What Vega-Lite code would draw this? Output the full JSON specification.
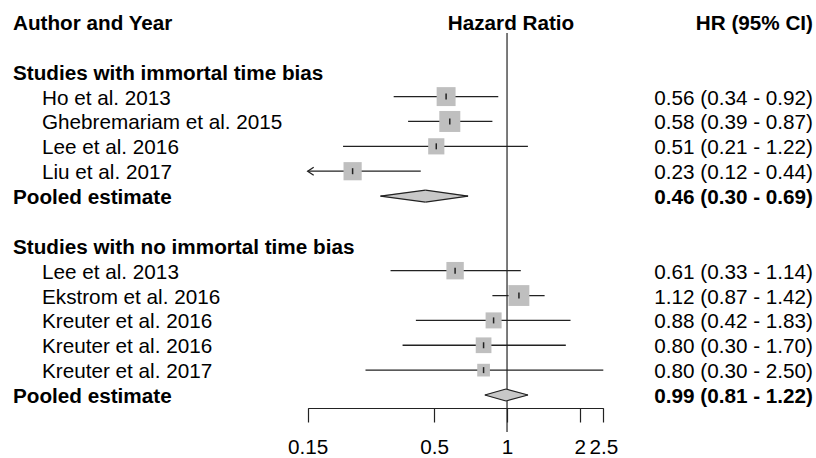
{
  "$schema": "https://vega.github.io/schema/vega-lite/v6.json",
  "width": 816,
  "height": 408,
  "autosize": {"type": "none"},
  "padding": {"left": 0, "top": 0, "right": 0, "bottom": 50},
  "background": "white",
  "config": {"view": {"stroke": null}, "font": "Liberation Sans"},
  "data": {"values": [
    {"row": 0, "kind": "colhead", "label": "Author and Year", "mid": "Hazard Ratio", "ci": "HR (95% CI)"},
    {"row": 2, "kind": "group", "label": "Studies with immortal time bias", "ci": ""},
    {"row": 3, "kind": "study", "label": "Ho et al. 2013", "hr": 0.56, "lo": 0.34, "hi": 0.92, "w": 26, "ci": "0.56 (0.34 - 0.92)"},
    {"row": 4, "kind": "study", "label": "Ghebremariam et al. 2015", "hr": 0.58, "lo": 0.39, "hi": 0.87, "w": 32, "ci": "0.58 (0.39 - 0.87)"},
    {"row": 5, "kind": "study", "label": "Lee et al. 2016", "hr": 0.51, "lo": 0.21, "hi": 1.22, "w": 19, "ci": "0.51 (0.21 - 1.22)"},
    {"row": 6, "kind": "study", "label": "Liu et al. 2017", "hr": 0.23, "lo": 0.12, "hi": 0.44, "w": 24, "ci": "0.23 (0.12 - 0.44)"},
    {"row": 7, "kind": "pooled", "label": "Pooled estimate", "hr": 0.46, "lo": 0.30, "hi": 0.69, "ci": "0.46 (0.30 - 0.69)"},
    {"row": 9, "kind": "group", "label": "Studies with no immortal time bias", "ci": ""},
    {"row": 10, "kind": "study", "label": "Lee et al. 2013", "hr": 0.61, "lo": 0.33, "hi": 1.14, "w": 22, "ci": "0.61 (0.33 - 1.14)"},
    {"row": 11, "kind": "study", "label": "Ekstrom et al. 2016", "hr": 1.12, "lo": 0.87, "hi": 1.43, "w": 31.5, "ci": "1.12 (0.87 - 1.42)"},
    {"row": 12, "kind": "study", "label": "Kreuter et al. 2016", "hr": 0.88, "lo": 0.42, "hi": 1.83, "w": 18.6, "ci": "0.88 (0.42 - 1.83)"},
    {"row": 13, "kind": "study", "label": "Kreuter et al. 2016", "hr": 0.80, "lo": 0.37, "hi": 1.75, "w": 17.9, "ci": "0.80 (0.30 - 1.70)"},
    {"row": 14, "kind": "study", "label": "Kreuter et al. 2017", "hr": 0.80, "lo": 0.26, "hi": 2.50, "w": 11.7, "ci": "0.80 (0.30 - 2.50)"},
    {"row": 15, "kind": "pooled", "label": "Pooled estimate", "hr": 0.99, "lo": 0.81, "hi": 1.22, "ci": "0.99 (0.81 - 1.22)"}
  ]},
  "layer": [
    {
      "transform": [{"filter": "datum.kind == 'study'"}],
      "mark": {"type": "rule", "color": "#222222", "strokeWidth": 1.3},
      "encoding": {
        "x": {"field": "lo", "type": "quantitative", "scale": {"type": "log", "domain": [0.15, 2.5], "range": [307.7, 603.3], "clamp": true, "nice": false},
          "axis": {"orient": "bottom", "values": [0.15, 0.5, 1, 2, 2.5], "format": "~g", "title": null, "grid": false, "domain": true, "ticks": true, "labels": true, "domainColor": "#222222", "domainWidth": 1.2, "tickColor": "#222222", "tickWidth": 1.2, "tickSize": 14, "labelFont": "Liberation Sans", "labelFontSize": 20.7, "labelColor": "#000000", "labelPadding": 31, "labelBaseline": "alphabetic", "labelOverlap": false, "labelFlush": false, "labelBound": false}},
        "x2": {"field": "hi"},
        "y": {"field": "row", "type": "quantitative", "scale": {"domain": [0, 15], "range": [22, 395]}, "axis": null}
      }
    },
    {
      "data": {"values": [{}]},
      "mark": {"type": "rule", "color": "#222222", "strokeWidth": 1.2},
      "encoding": {
        "x": {"datum": 1, "type": "quantitative", "scale": {"type": "log", "domain": [0.15, 2.5], "range": [307.7, 603.3], "clamp": true, "nice": false}, "axis": null},
        "y": {"datum": 0.44, "type": "quantitative", "scale": {"domain": [0, 15], "range": [22, 395]}, "axis": null},
        "y2": {"datum": 16.49}
      }
    },
    {
      "transform": [{"filter": "datum.kind == 'study'"}],
      "mark": {"type": "point", "shape": "square", "filled": true, "color": "#bfbfbf", "opacity": 1, "strokeWidth": 0},
      "encoding": {
        "x": {"field": "hr", "type": "quantitative", "scale": {"type": "log", "domain": [0.15, 2.5], "range": [307.7, 603.3], "clamp": true, "nice": false}, "axis": null},
        "y": {"field": "row", "type": "quantitative", "scale": {"domain": [0, 15], "range": [22, 395]}, "axis": null},
        "size": {"field": "w", "type": "quantitative", "scale": {"type": "linear", "domain": [0, 32], "range": [0, 441], "zero": true}, "legend": null}
      }
    },
    {
      "transform": [{"filter": "datum.kind == 'study'"}],
      "mark": {"type": "point", "shape": "M0,-1L0,1", "filled": false, "stroke": "#222222", "strokeWidth": 1.5, "size": 36, "opacity": 1},
      "encoding": {
        "x": {"field": "hr", "type": "quantitative", "scale": {"type": "log", "domain": [0.15, 2.5], "range": [307.7, 603.3], "clamp": true, "nice": false}, "axis": null},
        "y": {"field": "row", "type": "quantitative", "scale": {"domain": [0, 15], "range": [22, 395]}, "axis": null}
      }
    },
    {
      "transform": [{"filter": "datum.kind == 'study' && datum.lo < 0.15"}],
      "mark": {"type": "point", "shape": "M1.5,-1L0,0L1.5,1", "filled": false, "stroke": "#222222", "strokeWidth": 1.3, "size": 64, "opacity": 1},
      "encoding": {
        "x": {"field": "lo", "type": "quantitative", "scale": {"type": "log", "domain": [0.15, 2.5], "range": [307.7, 603.3], "clamp": true, "nice": false}, "axis": null},
        "y": {"field": "row", "type": "quantitative", "scale": {"domain": [0, 15], "range": [22, 395]}, "axis": null}
      }
    },
    {
      "transform": [{"filter": "datum.kind == 'pooled'"}, {"fold": ["lo", "hr", "hi"], "as": ["k", "v"]}],
      "mark": {"type": "trail", "color": "#c8c8c8", "fill": "#c8c8c8", "opacity": 1},
      "encoding": {
        "x": {"field": "v", "type": "quantitative", "scale": {"type": "log", "domain": [0.15, 2.5], "range": [307.7, 603.3], "clamp": true, "nice": false}, "axis": null},
        "y": {"field": "row", "type": "quantitative", "scale": {"domain": [0, 15], "range": [22, 395]}, "axis": null},
        "size": {"field": "k", "type": "nominal", "scale": {"type": "ordinal", "domain": ["lo", "hr", "hi"], "range": [0, 12, 0]}, "legend": null},
        "detail": {"field": "row"},
        "order": {"field": "v", "type": "quantitative"}
      }
    },
    {
      "transform": [{"filter": "datum.kind == 'pooled'"}, {"fold": ["lo", "hi"], "as": ["k", "v"]}],
      "mark": {"type": "rule", "color": "#222222", "strokeWidth": 1.2, "y2Offset": -6},
      "encoding": {
        "x": {"field": "v", "type": "quantitative", "scale": {"type": "log", "domain": [0.15, 2.5], "range": [307.7, 603.3], "clamp": true, "nice": false}, "axis": null},
        "x2": {"field": "hr"},
        "y": {"field": "row", "type": "quantitative", "scale": {"domain": [0, 15], "range": [22, 395]}, "axis": null},
        "y2": {"field": "row"}
      }
    },
    {
      "transform": [{"filter": "datum.kind == 'pooled'"}, {"fold": ["lo", "hi"], "as": ["k", "v"]}],
      "mark": {"type": "rule", "color": "#222222", "strokeWidth": 1.2, "y2Offset": 6},
      "encoding": {
        "x": {"field": "v", "type": "quantitative", "scale": {"type": "log", "domain": [0.15, 2.5], "range": [307.7, 603.3], "clamp": true, "nice": false}, "axis": null},
        "x2": {"field": "hr"},
        "y": {"field": "row", "type": "quantitative", "scale": {"domain": [0, 15], "range": [22, 395]}, "axis": null},
        "y2": {"field": "row"}
      }
    },
    {
      "transform": [{"filter": "datum.kind == 'colhead'"}],
      "mark": {"type": "text", "font": "Liberation Sans", "fontSize": 20.7, "fontWeight": "bold", "align": "center", "baseline": "middle", "dx": 4, "dy": 2, "color": "#000000"},
      "encoding": {
        "x": {"datum": 1, "type": "quantitative", "scale": {"type": "log", "domain": [0.15, 2.5], "range": [307.7, 603.3], "clamp": true, "nice": false}, "axis": null},
        "y": {"field": "row", "type": "quantitative", "scale": {"domain": [0, 15], "range": [22, 395]}, "axis": null},
        "text": {"field": "mid"}
      }
    },
    {
      "transform": [{"filter": "datum.kind != 'study'"}],
      "mark": {"type": "text", "font": "Liberation Sans", "fontSize": 20.7, "fontWeight": "bold", "align": "left", "baseline": "middle", "dy": 2, "color": "#000000"},
      "encoding": {
        "x": {"datum": "left", "type": "nominal", "scale": {"type": "point", "domain": ["left", "right"], "range": [13, 813], "padding": 0}, "axis": null},
        "y": {"field": "row", "type": "quantitative", "scale": {"domain": [0, 15], "range": [22, 395]}, "axis": null},
        "text": {"field": "label"}
      }
    },
    {
      "transform": [{"filter": "datum.kind == 'study'"}],
      "mark": {"type": "text", "font": "Liberation Sans", "fontSize": 20.7, "align": "left", "baseline": "middle", "dx": 29, "dy": 2, "color": "#000000"},
      "encoding": {
        "x": {"datum": "left", "type": "nominal", "scale": {"type": "point", "domain": ["left", "right"], "range": [13, 813], "padding": 0}, "axis": null},
        "y": {"field": "row", "type": "quantitative", "scale": {"domain": [0, 15], "range": [22, 395]}, "axis": null},
        "text": {"field": "label"}
      }
    },
    {
      "transform": [{"filter": "datum.kind == 'colhead' || datum.kind == 'pooled'"}],
      "mark": {"type": "text", "font": "Liberation Sans", "fontSize": 20.7, "fontWeight": "bold", "align": "right", "baseline": "middle", "dy": 2, "color": "#000000"},
      "encoding": {
        "x": {"datum": "right", "type": "nominal", "scale": {"type": "point", "domain": ["left", "right"], "range": [13, 813], "padding": 0}, "axis": null},
        "y": {"field": "row", "type": "quantitative", "scale": {"domain": [0, 15], "range": [22, 395]}, "axis": null},
        "text": {"field": "ci"}
      }
    },
    {
      "transform": [{"filter": "datum.kind == 'study'"}],
      "mark": {"type": "text", "font": "Liberation Sans", "fontSize": 20.7, "align": "right", "baseline": "middle", "dy": 2, "color": "#000000"},
      "encoding": {
        "x": {"datum": "right", "type": "nominal", "scale": {"type": "point", "domain": ["left", "right"], "range": [13, 813], "padding": 0}, "axis": null},
        "y": {"field": "row", "type": "quantitative", "scale": {"domain": [0, 15], "range": [22, 395]}, "axis": null},
        "text": {"field": "ci"}
      }
    }
  ],
  "resolve": {"scale": {"x": "independent"}}
}
